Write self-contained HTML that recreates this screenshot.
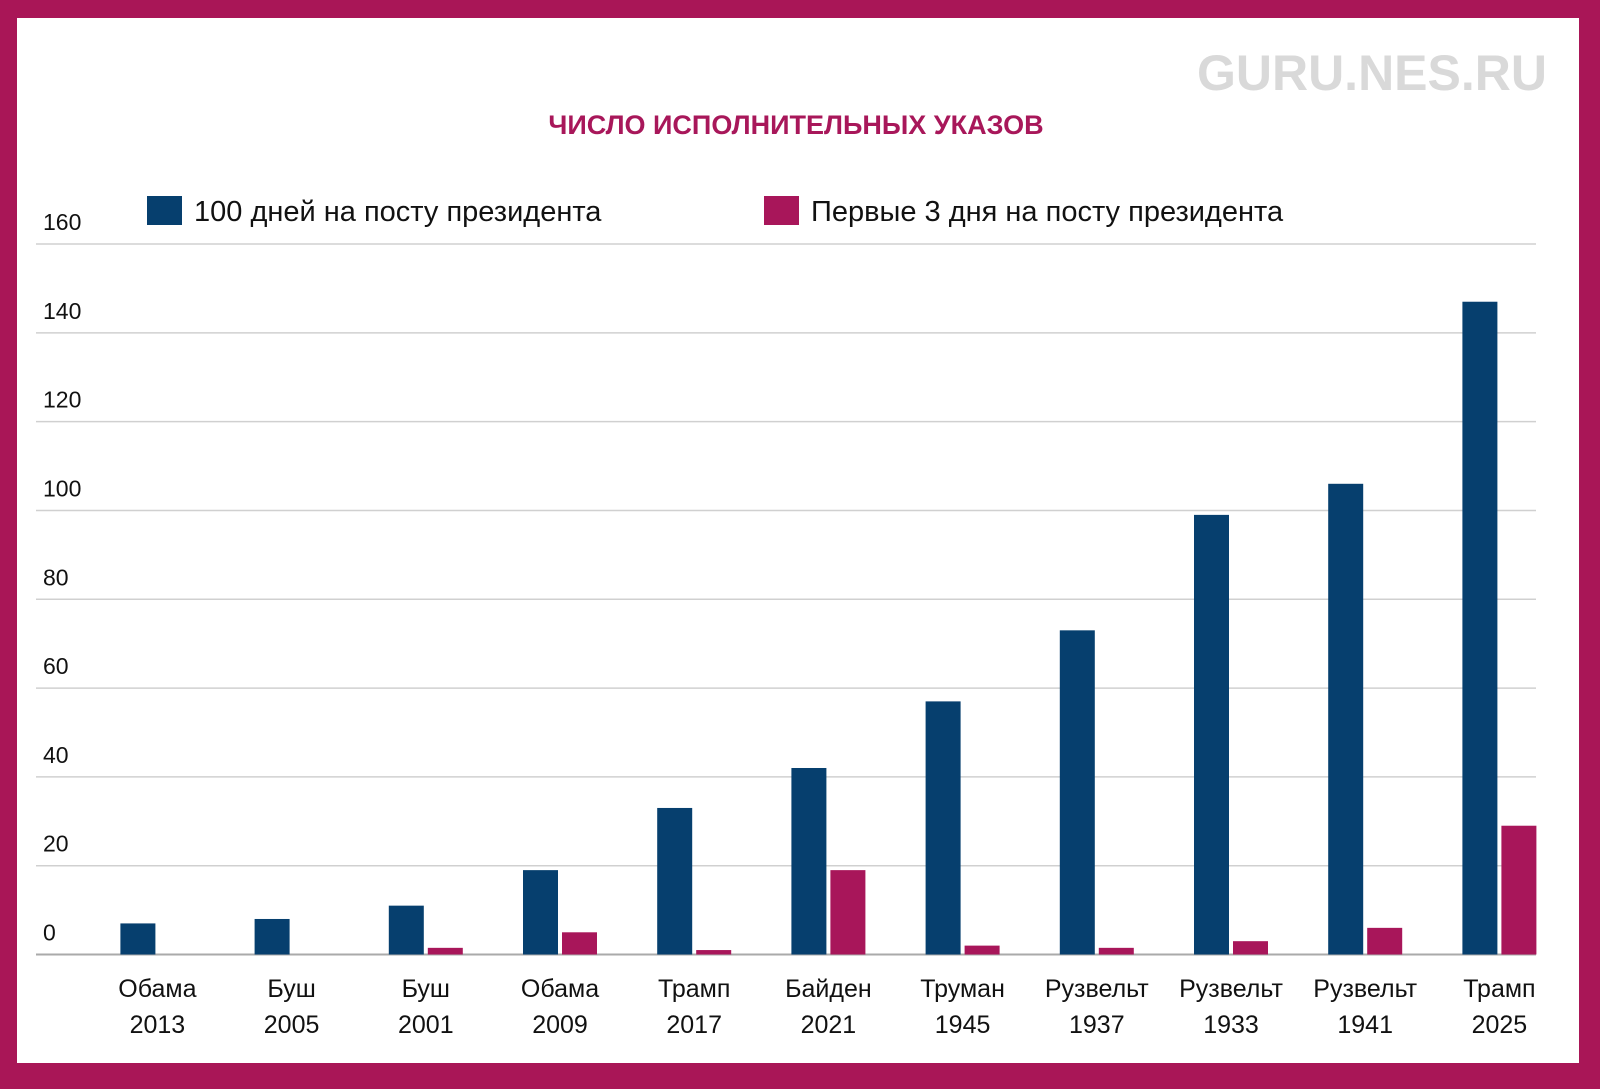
<!DOCTYPE html>
<html><head><meta charset="utf-8"><style>
body{margin:0;width:1600px;height:1084px;overflow:hidden;background:#a91657;}
</style></head><body>
<svg width="1600" height="1084" xmlns="http://www.w3.org/2000/svg" font-family="Liberation Sans, DejaVu Sans, sans-serif">
<rect x="17" y="18" width="1562" height="1045" fill="#fff"/>
<text x="1547" y="90" text-anchor="end" font-size="50" font-weight="bold" fill="#d9d9d9">GURU.NES.RU</text>
<text x="796" y="134" text-anchor="middle" font-size="27" font-weight="bold" fill="#a8175a">ЧИСЛО ИСПОЛНИТЕЛЬНЫХ УКАЗОВ</text>
<g>
<rect x="147" y="196" width="35" height="29" fill="#063f6e"/>
<text x="194" y="221" font-size="29" fill="#111">100 дней на посту президента</text>
<rect x="764" y="196" width="35" height="29" fill="#a8165a"/>
<text x="811" y="221" font-size="29" fill="#111">Первые 3 дня на посту президента</text>
</g>
<g id="grid"></g><g id="bars"></g><g id="labels"></g>
<script>
const names=["Обама","Буш","Буш","Обама","Трамп","Байден","Труман","Рузвельт","Рузвельт","Рузвельт","Трамп"];
const years=["2013","2005","2001","2009","2017","2021","1945","1937","1933","1941","2025"];
const days100=[7,8,11,19,33,42,57,73,99,106,147];
const days3=[0,0,1.5,5,1,19,2,1.5,3,6,29];
const ticks=[0,20,40,60,80,100,120,140,160];
const NS="http://www.w3.org/2000/svg";
function y(v){return 954.5-v*(710.5/160);}
function x(i){return 120.4+i*134.2;}
function mk(t,a,p){const e=document.createElementNS(NS,t);for(const k in a)e.setAttribute(k,a[k]);document.getElementById(p).appendChild(e);return e;}
ticks.forEach(t=>{
 const l=mk('line',{x1:36,x2:1536,y1:y(t),y2:y(t),stroke:t===0?'#aaa':'#d0d0d0','stroke-width':t===0?2:1.5},'grid');
 
 
 const tx=mk('text',{x:43,y:y(t)-14,'font-size':23,fill:'#111'},'grid');
 tx.textContent=t;
 
 
});
names.forEach((n,i)=>{
 const b=mk('rect',{x:x(i),y:y(days100[i]),width:35,height:y(0)-y(days100[i]),fill:'#063f6e'},'bars');
 
 
 if(days3[i]>0){
 const p=mk('rect',{x:x(i)+39,y:y(days3[i]),width:35,height:y(0)-y(days3[i]),fill:'#a8165a'},'bars');
 
 
 }
 const cx=x(i)+37;
 const t1=mk('text',{x:cx,y:997,'text-anchor':'middle','font-size':25,fill:'#111'},'labels');
 t1.textContent=n;
 
 
 const t2=mk('text',{x:cx,y:1033,'text-anchor':'middle','font-size':25,fill:'#111'},'labels');
 t2.textContent=years[i];
 
 
});
</script>
</svg>
</body></html>
